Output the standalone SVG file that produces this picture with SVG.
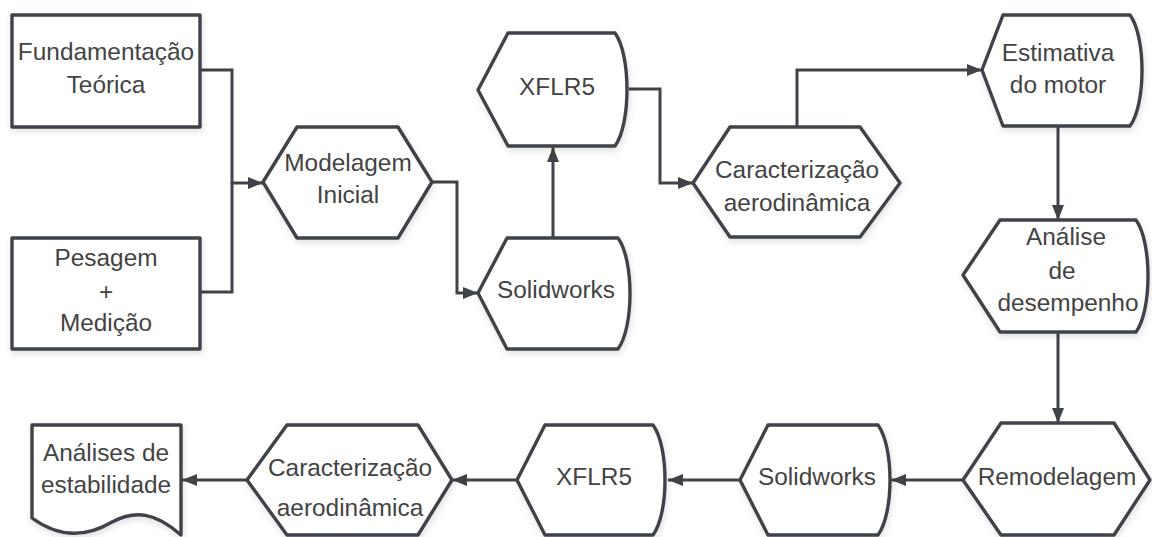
<svg xmlns="http://www.w3.org/2000/svg" width="1152" height="537" viewBox="0 0 1152 537">
<defs>
<marker id="arr" markerUnits="userSpaceOnUse" markerWidth="16" markerHeight="12" refX="15" refY="6" orient="auto">
<path d="M0,0 L15,6 L0,12 Z" fill="#3f4348"/>
</marker>
<filter id="sh" x="-10%" y="-10%" width="130%" height="130%">
<feDropShadow dx="1" dy="3" stdDeviation="3" flood-color="#000" flood-opacity="0.12"/>
</filter>
<style>
.n{fill:#fff;stroke:#3f4348;stroke-width:3.4;stroke-linejoin:round;filter:url(#sh)}
.t{font-family:"Liberation Sans",Arial,sans-serif;font-size:24.4px;fill:#434343;text-anchor:middle}
.c{fill:none;stroke:#3f4348;stroke-width:3}
.a{marker-end:url(#arr)}
</style>
</defs>
<rect width="1152" height="537" fill="#fff"/>
<g id="connectors">
<path class="c a" d="M200,70 H232 V183 H263"/>
<path class="c" d="M200,292 H232 V183"/>
<path class="c a" d="M432,182 H457 V293 H478"/>
<path class="c a" d="M553,238 V147"/>
<path class="c a" d="M629,89 H660 V183 H693"/>
<path class="c a" d="M797,127 V70 H982"/>
<path class="c a" d="M1058,126 V220"/>
<path class="c a" d="M1058,332 V423"/>
<path class="c a" d="M963,480 H891"/>
<path class="c a" d="M740,480 H668"/>
<path class="c a" d="M517,480 H452"/>
<path class="c a" d="M247,480 H182"/>
</g>
<g id="fundamentacao">
<rect class="n" x="12" y="15" width="188" height="112"/>
<text class="t" x="106" y="60">Fundamentação</text>
<text class="t" x="106" y="93">Teórica</text>
</g>
<g id="pesagem">
<rect class="n" x="12" y="238" width="188" height="111"/>
<text class="t" x="106" y="266">Pesagem</text>
<text class="t" x="106" y="300">+</text>
<text class="t" x="106" y="331">Medição</text>
</g>
<g id="modelagem">
<polygon class="n" points="263,182 297,127 398,127 432,182 398,238 297,238"/>
<text class="t" x="348" y="171">Modelagem</text>
<text class="t" x="348" y="203">Inicial</text>
</g>
<g id="solidworks1">
<path class="n" d="M478,293 L507,238 L618,238 C634,260 634,327 618,349 L507,349 Z"/>
<text class="t" x="556" y="298">Solidworks</text>
</g>
<g id="xflr5a">
<path class="n" d="M478,90 L508,33 L615,33 C631,55 631,124 615,146 L508,146 Z"/>
<text class="t" x="557" y="95">XFLR5</text>
</g>
<g id="caracterizacao1">
<polygon class="n" points="693,183 730,127 860,127 900,183 860,237 730,237"/>
<text class="t" x="797" y="178">Caracterização</text>
<text class="t" x="797" y="211">aerodinâmica</text>
</g>
<g id="estimativa">
<path class="n" d="M982,70 L1003,15 L1130,15 C1146,37 1146,104 1130,126 L1003,126 Z"/>
<text class="t" x="1058" y="61">Estimativa</text>
<text class="t" x="1058" y="93">do motor</text>
</g>
<g id="analise">
<path class="n" d="M963,275 L1000,220 L1136,220 C1152,242 1152,310 1136,332 L1000,332 Z"/>
<text class="t" x="1066" y="245">Análise</text>
<text class="t" x="1062" y="279">de</text>
<text class="t" x="1068" y="311">desempenho</text>
</g>
<g id="remodelagem">
<polygon class="n" points="963,480 1001,423 1114,423 1150,480 1114,535 1001,535"/>
<text class="t" x="1057" y="485">Remodelagem</text>
</g>
<g id="solidworks2">
<path class="n" d="M740,480 L768,425 L878,425 C894,447 894,513 878,535 L768,535 Z"/>
<text class="t" x="817" y="485">Solidworks</text>
</g>
<g id="xflr5b">
<path class="n" d="M517,480 L545,425 L653,425 C669,447 669,513 653,535 L545,535 Z"/>
<text class="t" x="594" y="485">XFLR5</text>
</g>
<g id="caracterizacao2">
<polygon class="n" points="247,480 287,425 418,425 452,480 418,535 287,535"/>
<text class="t" x="350" y="476">Caracterização</text>
<text class="t" x="350" y="516">aerodinâmica</text>
</g>
<g id="analises">
<path class="n" d="M32,425 H181 V535 C155,512 135,510 112,522 C90,535 62,540 32,518 Z"/>
<text class="t" x="106" y="461">Análises de</text>
<text class="t" x="106" y="493">estabilidade</text>
</g>
</svg>
